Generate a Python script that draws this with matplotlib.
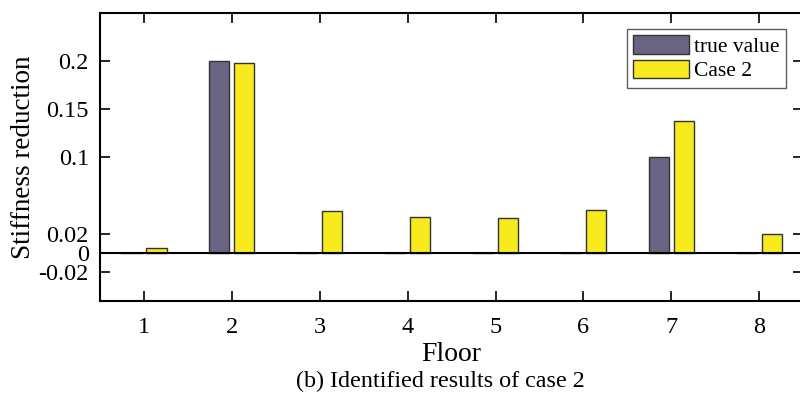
import matplotlib
matplotlib.use("Agg")
import matplotlib.pyplot as plt
import numpy as np

floors = [1, 2, 3, 4, 5, 6, 7, 8]
true_value = [0.0, 0.2, 0.0, 0.0, 0.0, 0.0, 0.1, 0.0]
case2 = [0.0052, 0.198, 0.0435, 0.0382, 0.0368, 0.0455, 0.138, 0.0198]
yticks = [-0.02, 0, 0.02, 0.1, 0.15, 0.2]
ytick_labels = ["-0.02", "0", "0.02", "0.1", "0.15", "0.2"]

plt.rcParams["font.family"] = ["Liberation Serif", "DejaVu Serif"]

fig = plt.figure(figsize=(8.0, 3.99), dpi=100)
ax = fig.add_axes([0.125, 0.245, 0.879, 0.722])

x = np.array(floors, dtype=float)
w = 0.23
off = 0.142
edge = "#333333"
ax.bar(x - off, true_value, width=w, color="#6A6381", edgecolor=edge,
       linewidth=1.0, label="true value", zorder=2)
ax.bar(x + off, case2, width=w, color="#F7EB1F", edgecolor=edge,
       linewidth=1.0, label="Case 2", zorder=2)

ax.axhline(0, color="black", linewidth=1.5, zorder=3)

ax.set_xlim(0.5, 8.5)
ax.set_ylim(-0.05, 0.25)
ax.set_xticks(floors)
ax.set_xticklabels([str(f) for f in floors])
ax.set_yticks(yticks)
ax.set_yticklabels(ytick_labels)

ax.tick_params(axis="both", direction="in", length=7, width=1.2,
               labelsize=17.5, top=True, right=True)
ax.tick_params(axis="x", pad=11)
ax.tick_params(axis="y", pad=8)
for s in ax.spines.values():
    s.set_linewidth(1.5)

ax.set_xlabel("Floor", fontsize=20, labelpad=3)
ax.set_ylabel("Stiffness reduction", fontsize=19.5, labelpad=2)

leg = ax.legend(loc="upper right", bbox_to_anchor=(0.975, 0.945),
                fontsize=15.5, frameon=True, fancybox=False,
                edgecolor="#333333", handlelength=2.6, handleheight=0.95,
                handletextpad=0.2, borderpad=0.3, labelspacing=0.12,
                borderaxespad=0.0)
leg.get_frame().set_linewidth(1.0)

fig.text(0.551, 0.045, "(b) Identified results of case 2", ha="center",
         va="center", fontsize=17.4)

fig.savefig("out.png", dpi=100)
